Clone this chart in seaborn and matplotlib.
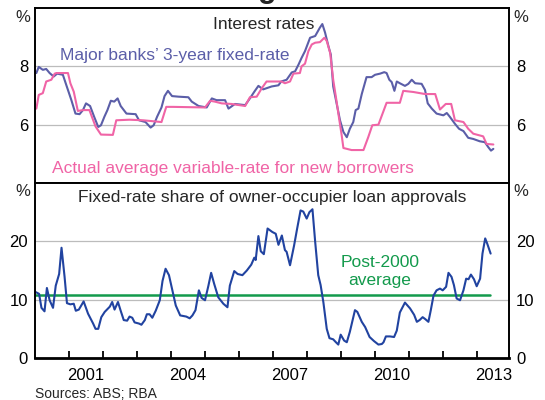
"""Interest rates and fixed-rate share of owner-occupier loan approvals."""

import matplotlib.pyplot as plt
import seaborn as sns
from matplotlib.ticker import FixedLocator, FixedFormatter, NullFormatter

sns.set_theme(style="white")
plt.rcParams["font.family"] = ["Liberation Sans", "DejaVu Sans"]

# Major banks' 3-year fixed rate (%), decimal years
fixed_x = [
    2000.04, 2000.11, 2000.23, 2000.33, 2000.43, 2000.55, 2000.65, 2000.82, 2000.92,
    2001.07, 2001.19, 2001.31, 2001.41, 2001.50, 2001.62, 2001.74, 2001.86, 2001.94,
    2002.04, 2002.13, 2002.23, 2002.33, 2002.43, 2002.52, 2002.69, 2002.96, 2003.06,
    2003.25, 2003.40, 2003.49, 2003.59, 2003.72, 2003.81, 2003.91, 2004.03, 2004.22,
    2004.51, 2004.61, 2004.81, 2005.05, 2005.20, 2005.34, 2005.59, 2005.69, 2005.88,
    2006.18, 2006.32, 2006.45, 2006.57, 2006.71, 2006.96, 2007.16, 2007.24, 2007.40,
    2007.55, 2007.65, 2007.75, 2007.84, 2007.94, 2008.09, 2008.24, 2008.38, 2008.45,
    2008.53, 2008.63, 2008.70, 2008.77, 2008.87, 2008.97, 2009.07, 2009.17, 2009.26,
    2009.36, 2009.43, 2009.51, 2009.61, 2009.75, 2009.90, 2010.00, 2010.15, 2010.27,
    2010.34, 2010.42, 2010.49, 2010.57, 2010.64, 2010.73, 2010.88, 2010.98, 2011.08,
    2011.18, 2011.37, 2011.47, 2011.55, 2011.67, 2011.81, 2012.01, 2012.11, 2012.20,
    2012.35, 2012.47, 2012.60, 2012.74, 2012.89, 2013.08, 2013.23, 2013.33, 2013.41,
    2013.48,
]
fixed_rate = [
    7.77, 7.98, 7.88, 7.91, 7.77, 7.65, 7.75, 7.71, 7.36,
    6.84, 6.38, 6.36, 6.50, 6.73, 6.64, 6.27, 5.92, 5.98,
    6.27, 6.50, 6.82, 6.79, 6.90, 6.64, 6.38, 6.36, 6.15,
    6.09, 5.90, 5.98, 6.27, 6.59, 6.98, 7.16, 6.98, 6.96,
    6.94, 6.79, 6.64, 6.59, 6.90, 6.84, 6.84, 6.55, 6.71,
    6.67, 6.90, 7.13, 7.33, 7.21, 7.31, 7.35, 7.48, 7.54,
    7.79, 7.83, 8.06, 8.29, 8.52, 8.98, 9.04, 9.33, 9.45,
    9.16, 8.69, 8.40, 7.31, 6.73, 6.15, 5.75, 5.57, 5.86,
    6.09, 6.50, 6.55, 7.05, 7.63, 7.63, 7.71, 7.75, 7.80,
    7.77, 7.54, 7.46, 7.16, 7.48, 7.42, 7.33, 7.40, 7.54,
    7.42, 7.40, 7.19, 6.73, 6.55, 6.38, 6.32, 6.40, 6.27,
    6.03, 5.86, 5.78, 5.55, 5.51, 5.43, 5.40, 5.23, 5.11,
    5.17,
]

# Actual average variable rate for new borrowers (%)
variable_x = [
    2000.04, 2000.11, 2000.23, 2000.33, 2000.48, 2000.58, 2000.63, 2000.97, 2001.04,
    2001.14, 2001.26, 2001.41, 2001.60, 2001.78, 2001.94, 2002.29, 2002.39, 2002.78,
    2003.18, 2003.72, 2003.86, 2004.06, 2005.00, 2005.15, 2005.29, 2005.49, 2005.78,
    2006.18, 2006.32, 2006.52, 2006.67, 2006.81, 2007.25, 2007.35, 2007.50, 2007.60,
    2007.79, 2007.84, 2007.94, 2008.04, 2008.14, 2008.24, 2008.38, 2008.51, 2008.58,
    2008.68, 2008.77, 2008.87, 2008.94, 2009.02, 2009.07, 2009.31, 2009.66, 2009.80,
    2009.92, 2010.10, 2010.34, 2010.73, 2010.83, 2011.13, 2011.47, 2011.77, 2011.91,
    2012.08, 2012.24, 2012.35, 2012.60, 2012.74, 2012.89, 2013.18, 2013.28, 2013.48,
]
variable_rate = [
    6.55, 7.02, 7.08, 7.48, 7.54, 7.75, 7.77, 7.77, 7.42,
    7.13, 6.47, 6.50, 6.50, 5.94, 5.66, 5.65, 6.15, 6.17,
    6.15, 6.09, 6.61, 6.61, 6.59, 6.82, 6.79, 6.73, 6.71,
    6.64, 6.94, 6.96, 7.25, 7.48, 7.48, 7.42, 7.48, 7.75,
    7.77, 8.00, 8.09, 8.52, 8.75, 8.81, 8.83, 8.98, 8.87,
    8.46, 7.54, 6.79, 6.24, 5.63, 5.20, 5.13, 5.13, 5.57,
    5.98, 6.00, 6.75, 6.75, 7.16, 7.12, 7.05, 7.05, 6.52,
    6.71, 6.71, 6.15, 6.09, 5.86, 5.69, 5.60, 5.34, 5.32,
]

# Fixed-rate share of owner-occupier loan approvals (%)
share_x = [
    2000.02, 2000.12, 2000.19, 2000.28, 2000.35, 2000.43, 2000.53, 2000.61, 2000.71,
    2000.78, 2000.87, 2000.94, 2001.04, 2001.14, 2001.20, 2001.29, 2001.43, 2001.56,
    2001.71, 2001.78, 2001.86, 2001.95, 2002.05, 2002.20, 2002.27, 2002.34, 2002.44,
    2002.52, 2002.61, 2002.71, 2002.78, 2002.86, 2002.93, 2003.06, 2003.13, 2003.23,
    2003.29, 2003.37, 2003.45, 2003.55, 2003.67, 2003.75, 2003.84, 2003.94, 2004.04,
    2004.14, 2004.27, 2004.45, 2004.55, 2004.63, 2004.72, 2004.82, 2004.90, 2005.00,
    2005.10, 2005.18, 2005.27, 2005.39, 2005.54, 2005.66, 2005.73, 2005.86, 2005.96,
    2006.10, 2006.23, 2006.36, 2006.45, 2006.49, 2006.57, 2006.64, 2006.73, 2006.84,
    2006.98, 2007.08, 2007.16, 2007.26, 2007.35, 2007.40, 2007.50, 2007.62, 2007.71,
    2007.81, 2007.89, 2007.99, 2008.07, 2008.16, 2008.24, 2008.33, 2008.40, 2008.48,
    2008.58, 2008.66, 2008.77, 2008.85, 2008.92, 2008.99, 2009.09, 2009.17, 2009.26,
    2009.41, 2009.48, 2009.61, 2009.71, 2009.84, 2009.97, 2010.10, 2010.20, 2010.25,
    2010.32, 2010.44, 2010.56, 2010.64, 2010.73, 2010.88, 2011.03, 2011.15, 2011.23,
    2011.31, 2011.40, 2011.47, 2011.57, 2011.64, 2011.72, 2011.81, 2011.91, 2011.99,
    2012.09, 2012.16, 2012.25, 2012.32, 2012.40, 2012.50, 2012.60, 2012.68, 2012.75,
    2012.82, 2012.91, 2012.99, 2013.09, 2013.16, 2013.24, 2013.30, 2013.40,
]
fixed_share = [
    11.3, 11.0, 8.6, 8.0, 12.0, 9.9, 8.6, 12.4, 14.4,
    18.9, 13.9, 9.4, 9.2, 9.3, 8.1, 8.3, 9.7, 7.6,
    5.9, 5.0, 5.0, 7.0, 7.9, 8.8, 9.6, 8.3, 9.6,
    8.1, 6.5, 6.4, 7.1, 6.9, 6.1, 5.9, 5.7, 6.5,
    7.5, 7.5, 6.9, 8.1, 9.9, 13.2, 15.3, 14.2, 11.6,
    9.0, 7.3, 7.1, 6.8, 7.3, 8.2, 11.6, 10.3, 9.9,
    12.4, 14.6, 12.7, 10.4, 9.3, 8.7, 12.4, 14.9, 14.4,
    14.2, 15.0, 16.0, 17.2, 16.8, 20.9, 18.3, 17.8, 22.2,
    21.6, 21.3, 19.4, 21.0, 18.5, 18.2, 15.9, 19.3, 22.2,
    25.3, 25.1, 23.9, 25.0, 25.5, 19.9, 14.2, 12.5, 9.6,
    5.0, 3.4, 3.2, 2.7, 2.3, 4.0, 3.0, 2.7, 4.5,
    8.2, 7.9, 6.2, 5.3, 3.6, 2.9, 2.3, 2.4, 2.7,
    3.7, 3.7, 3.6, 4.7, 7.8, 9.5, 8.5, 7.4, 6.2,
    6.5, 7.0, 6.7, 6.2, 8.2, 10.7, 11.6, 11.9, 11.6,
    12.2, 14.6, 13.9, 12.5, 10.2, 9.9, 11.6, 13.6, 13.5,
    14.3, 13.5, 12.3, 13.6, 17.9, 20.5, 19.6, 17.9,
]

# Post-2000 average of the fixed-rate share
average_x = [2000.0, 2013.38]
average_share = [10.8, 10.8]

year_ticks = list(range(2001, 2014))
label_years = [2001, 2004, 2007, 2010, 2013]

PURPLE = "#5b5ea8"
PINK = "#f064a6"
NAVY = "#2143a0"
GREEN = "#139a4c"
GRID = "#bcbcbc"
W, H = 545, 400


def fig_text(fig, px, py, text, **kwargs):
    """Place text using pixel coordinates measured from the top-left."""
    fig.text(px / W, 1 - py / H, text, **kwargs)


def main() -> None:
    fig, (ax_top, ax_bot) = plt.subplots(2, 1, sharex=True, figsize=(5.45, 4.0), dpi=100)
    fig.subplots_adjust(left=35 / W, right=509 / W, top=1 - 8 / H, bottom=1 - 358 / H, hspace=0)

    sns.lineplot(x=fixed_x, y=fixed_rate, ax=ax_top, color=PURPLE, linewidth=1.5)
    sns.lineplot(x=variable_x, y=variable_rate, ax=ax_top, color=PINK, linewidth=1.5)
    sns.lineplot(x=average_x, y=average_share, ax=ax_bot, color=GREEN, linewidth=1.8)
    sns.lineplot(x=share_x, y=fixed_share, ax=ax_bot, color=NAVY, linewidth=1.5)

    ax_top.set_ylim(4, 10)
    ax_top.set_yticks([6, 8])
    ax_bot.set_ylim(0, 30)
    ax_bot.set_yticks([0, 10, 20])
    ax_bot.set_xlim(2000, 2013.94)

    for ax in (ax_top, ax_bot):
        ax.grid(axis="y", color=GRID, linewidth=0.9)
        ax.set_axisbelow(True)
        ax.tick_params(axis="y", length=0, labelleft=True, labelright=True,
                       pad=5, labelsize=12, colors="black")
        for spine in ax.spines.values():
            spine.set_visible(True)
            spine.set_color("black")
            spine.set_linewidth(1.4)
        ax.set_xlabel("")
        ax.set_ylabel("")
    ax_bot.spines["bottom"].set_linewidth(2.0)

    ax_bot.xaxis.set_major_locator(FixedLocator(year_ticks))
    ax_bot.xaxis.set_major_formatter(NullFormatter())
    ax_bot.xaxis.set_minor_locator(FixedLocator([y + 0.5 for y in label_years]))
    ax_bot.xaxis.set_minor_formatter(FixedFormatter([str(y) for y in label_years]))
    ax_bot.tick_params(axis="x", which="major", direction="in", length=5, width=1.3,
                       color="black", bottom=True)
    ax_bot.tick_params(axis="x", which="minor", length=0, pad=7, labelsize=12,
                       labelcolor="black", bottom=True)
    ax_top.tick_params(axis="x", which="both", bottom=False, labelbottom=False)

    # cut-off title descender at the very top, as in the source image
    fig_text(fig, 267, -3, "g", fontsize=22, fontweight="bold", ha="center", va="baseline")

    # unit labels
    for py in (18, 192):
        fig_text(fig, 23, py, "%", fontsize=12, ha="center", va="center")
        fig_text(fig, 521, py, "%", fontsize=12, ha="center", va="center")

    fig_text(fig, 264, 29, "Interest rates", fontsize=12.5, ha="center", va="baseline")
    fig_text(fig, 60, 60, "Major banks\u2019 3-year fixed-rate", fontsize=12.5,
             color=PURPLE, ha="left", va="baseline")
    fig_text(fig, 52, 173, "Actual average variable-rate for new borrowers", fontsize=12.5,
             color=PINK, ha="left", va="baseline")
    fig_text(fig, 272, 202, "Fixed-rate share of owner-occupier loan approvals",
             fontsize=12.5, ha="center", va="baseline")
    fig_text(fig, 380, 267, "Post-2000", fontsize=12.5, color=GREEN, ha="center", va="baseline")
    fig_text(fig, 380, 285, "average", fontsize=12.5, color=GREEN, ha="center", va="baseline")
    fig_text(fig, 35, 398, "Sources: ABS; RBA", fontsize=10, ha="left", va="baseline")

    fig.savefig("out.png", dpi=100)
    plt.close(fig)


if __name__ == "__main__":
    main()
